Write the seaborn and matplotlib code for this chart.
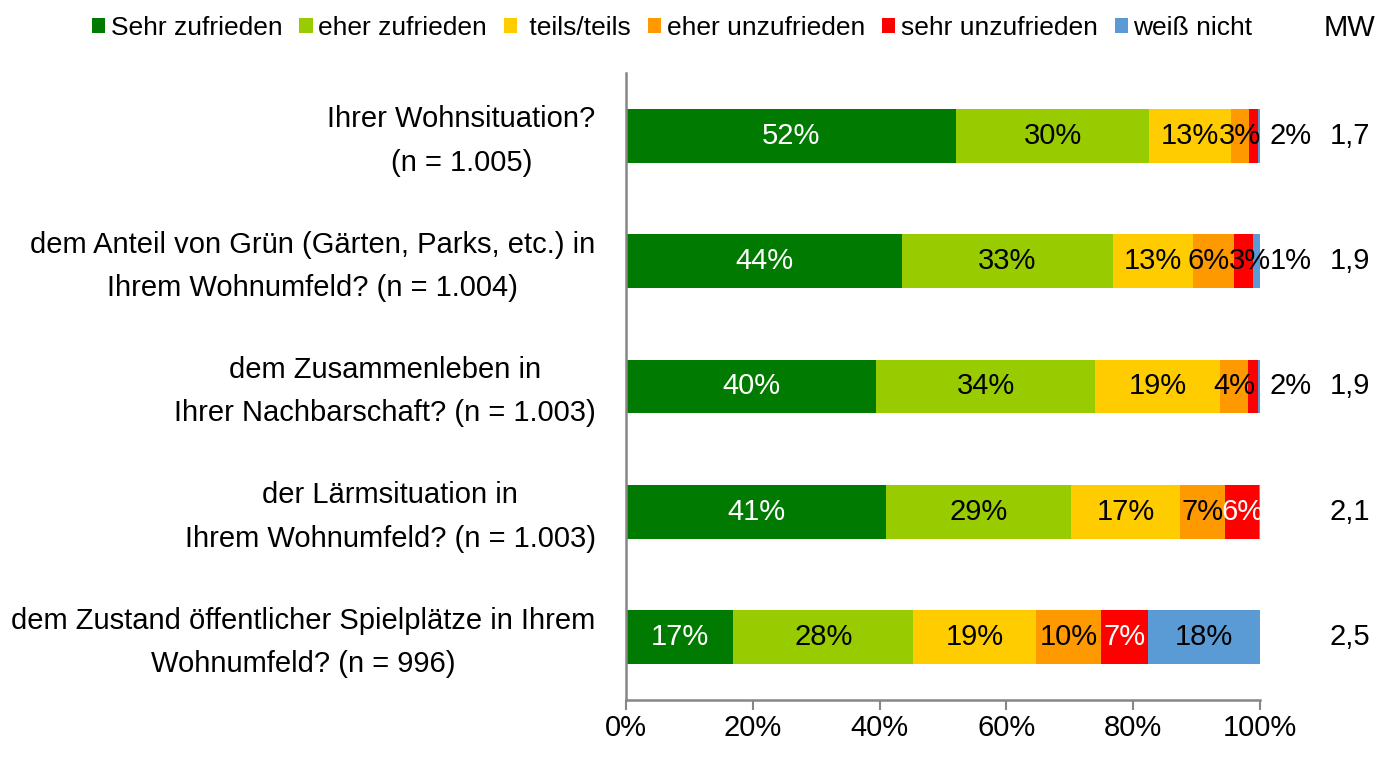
import seaborn as sns
import pandas as pd
import numpy as np
import matplotlib
matplotlib.use('Agg')
import matplotlib.pyplot as plt
import matplotlib.transforms as mtransforms
from matplotlib.patches import Patch

questions = ['Ihrer Wohnsituation?\n(n = 1.005)',
             'dem Anteil von Grün (Gärten, Parks, etc.) in\nIhrem Wohnumfeld? (n = 1.004)',
             'dem Zusammenleben in\nIhrer Nachbarschaft? (n = 1.003)',
             'der Lärmsituation in\nIhrem Wohnumfeld? (n = 1.003)',
             'dem Zustand öffentlicher Spielplätze in Ihrem\nWohnumfeld? (n = 996)']
answers = ['Sehr zufrieden', 'eher zufrieden', ' teils/teils', 'eher unzufrieden',
           'sehr unzufrieden', 'weiß nicht']

# bar widths (percent)
sehr_zufrieden = [52.1, 43.5, 39.4, 41.0, 16.9]
eher_zufrieden = [30.4, 33.3, 34.6, 29.2, 28.4]
teils_teils = [12.9, 12.6, 19.7, 17.2, 19.4]
eher_unzufrieden = [2.9, 6.5, 4.4, 7.1, 10.2]
sehr_unzufrieden = [1.4, 3.0, 1.6, 5.4, 7.4]
weiss_nicht = [0.3, 1.1, 0.3, 0.1, 17.7]

# printed labels ('' = no label)
lab_sehr_zufrieden = ['52%', '44%', '40%', '41%', '17%']
lab_eher_zufrieden = ['30%', '33%', '34%', '29%', '28%']
lab_teils_teils = ['13%', '13%', '19%', '17%', '19%']
lab_eher_unzufrieden = ['3%', '6%', '4%', '7%', '10%']
lab_sehr_unzufrieden = ['2%', '3%', '2%', '6%', '7%']
lab_weiss_nicht = ['', '1%', '', '', '18%']

# labels moved outside the bar (row, series)
outside = [(0, 4), (1, 5), (2, 4)]
# small sideways nudges of crowded labels (row, series): percent units
nudge = {(1, 3): -0.8, (1, 4): 1.0}
# labels printed in white (row, series)
white = [(0, 0), (1, 0), (2, 0), (3, 0), (4, 0), (3, 4), (4, 4)]

mw = ['1,7', '1,9', '1,9', '2,1', '2,5']

colors = ['#007A00', '#99CC00', '#FFCC00', '#FF9900', '#FF0000', '#5B9BD5']

values = np.array([sehr_zufrieden, eher_zufrieden, teils_teils, eher_unzufrieden,
                   sehr_unzufrieden, weiss_nicht])
labels = [lab_sehr_zufrieden, lab_eher_zufrieden, lab_teils_teils, lab_eher_unzufrieden,
          lab_sehr_unzufrieden, lab_weiss_nicht]
cum = values.cumsum(axis=0)

sns.set_theme(style='white')
plt.rcParams['font.family'] = ['Liberation Sans', 'DejaVu Sans']
plt.rcParams['text.color'] = 'black'
fs = 21
fs_leg = 19

fig, ax = plt.subplots(figsize=(13.76, 7.65), dpi=100)
fig.subplots_adjust(left=0.455, right=0.9157, top=0.9046, bottom=0.085)

# stacked bars: draw cumulative totals back to front
for k in reversed(range(len(answers))):
    df = pd.DataFrame({'Frage': questions, 'Anteil': cum[k]})
    sns.barplot(data=df, x='Anteil', y='Frage', color=colors[k], saturation=1,
                width=0.43, errorbar=None, edgecolor='none', linewidth=0, ax=ax)

for k in range(len(answers)):
    for i in range(len(questions)):
        txt = labels[k][i]
        if not txt:
            continue
        x = cum[k][i] - values[k][i] / 2 + nudge.get((i, k), 0)
        if (i, k) in outside:
            x = 104.8
        col = 'white' if (i, k) in white else 'black'
        ax.text(x, i, txt, ha='center', va='center', fontsize=fs, color=col, clip_on=False)

for i, m in enumerate(mw):
    ax.text(114.2, i, m, ha='center', va='center', fontsize=fs, color='black', clip_on=False)
fig.text(0.981, 0.963, 'MW', ha='center', va='center', fontsize=fs)

ax.set_xlim(0, 100)
ax.set_xticks([0, 20, 40, 60, 80, 100])
ax.set_xticklabels(['0%', '20%', '40%', '60%', '80%', '100%'])
ax.set_xlabel('')
ax.set_ylabel('')
ax.tick_params(axis='x', bottom=True, length=7, width=1.5, color='#868686',
               labelcolor='black', labelsize=fs, pad=3)
ax.tick_params(axis='y', left=False, length=0, labelcolor='black', labelsize=fs, pad=22)
shift_up = mtransforms.ScaledTranslation(0, 4 / 72, fig.dpi_scale_trans)
for t in ax.get_yticklabels():
    t.set_multialignment('center')
    t.set_linespacing(1.7)
    t.set_transform(t.get_transform() + shift_up)

sns.despine(ax=ax)
for side in ['left', 'bottom']:
    ax.spines[side].set_color('#868686')
    ax.spines[side].set_linewidth(1.8)

handles = [Patch(facecolor=c, edgecolor='none') for c in colors]
fig.legend(handles, answers, loc='center', bbox_to_anchor=(0.4885, 0.963), ncol=6,
           frameon=False, fontsize=fs_leg, handlelength=0.5, handleheight=0.5,
           handletextpad=0.2, columnspacing=0.65, borderaxespad=0)

plt.savefig('out.png', dpi=100)
